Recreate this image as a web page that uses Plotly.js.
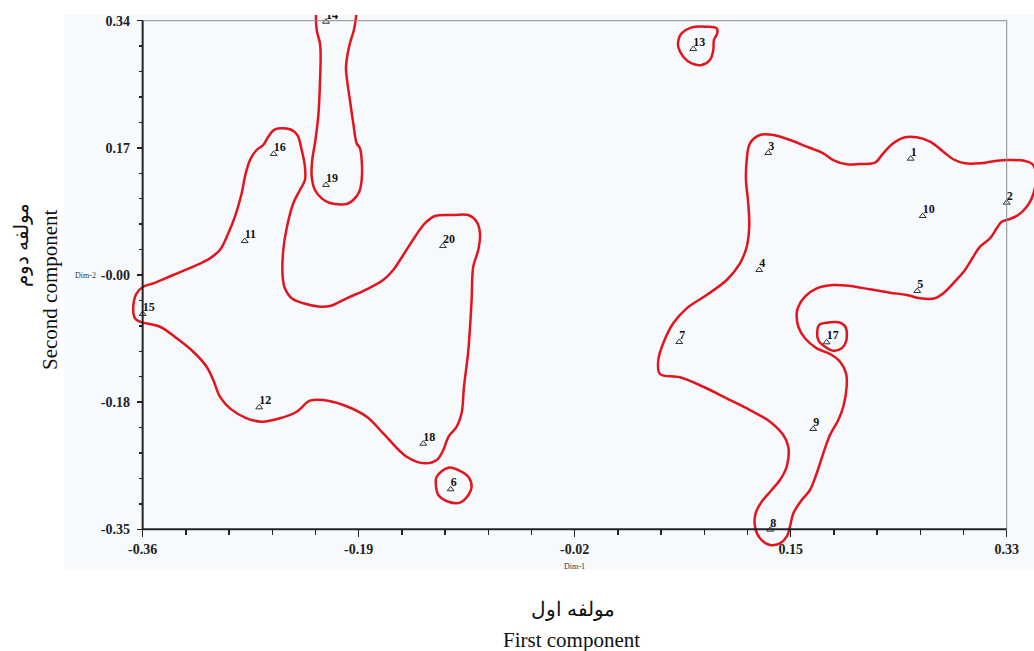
<!DOCTYPE html>
<html>
<head>
<meta charset="utf-8">
<script src="https://cdn.plot.ly/plotly-3.0.1.min.js"></script>
<style>html,body{margin:0;padding:0;background:#fff;}#chart{width:1034px;height:651px;}</style>
</head>
<body>
<div id="chart"></div>
<script>
// ---- tick labels ----
const xTickVals = [-0.36, -0.1875, -0.015, 0.1575, 0.33];
const xTickText = ['-0.36', '-0.19', '-0.02', '0.15', '0.33'];
const yTickVals = [0.34, 0.1675, -0.005, -0.1775, -0.35];
const yTickText = ['0.34', '0.17', '-0.00', '-0.18', '-0.35'];

// ---- points ----
const pointLabels = ['1','2','3','4','5','6','7','8','9','10','11','12','13','14','15','16','17','18','19','20'];
const pointX = [0.2533, 0.3300, 0.1396, 0.1324, 0.2586, -0.1140, 0.0685, 0.1412, 0.1755, 0.2629,
                -0.2785, -0.2669, 0.0797, -0.2136, -0.3600, -0.2554, 0.1862, -0.1359, -0.2136, -0.1202];
const pointY = [0.1528, 0.0931, 0.1605, 0.0018, -0.0267, -0.2957, -0.0959, -0.3505, -0.2139, 0.0750,
                0.0411, -0.1845, 0.3016, 0.3386, -0.0579, 0.1592, -0.0963, -0.2339, 0.1171, 0.0343];

// ---- contour outlines ----
const leftBlobX = [-0.3675,-0.3661,-0.3622,-0.3462,-0.3328,-0.3196,-0.3089,-0.3036,-0.2983,-0.2903,-0.2769,-0.2650,-0.2504,-0.2370,-0.2264,-0.2158,-0.1998,-0.1811,-0.1679,-0.1492,-0.1346,-0.1252,-0.1199,-0.1159,-0.1092,-0.1053,-0.1034,-0.0999,-0.0973,-0.0960,-0.0920,-0.0906,-0.0933,-0.0999,-0.1120,-0.1266,-0.1346,-0.1425,-0.1519,-0.1599,-0.1679,-0.1811,-0.1971,-0.2104,-0.2184,-0.2317,-0.2410,-0.2464,-0.2482,-0.2477,-0.2450,-0.2397,-0.2344,-0.2304,-0.2304,-0.2330,-0.2365,-0.2424,-0.2543,-0.2597,-0.2637,-0.2690,-0.2743,-0.2783,-0.2809,-0.2863,-0.2916,-0.2983,-0.3063,-0.3196,-0.3356,-0.3515,-0.3595,-0.3648,-0.3675];
const leftBlobY = [-0.0480,-0.0638,-0.0684,-0.0752,-0.0909,-0.1091,-0.1294,-0.1475,-0.1701,-0.1859,-0.1994,-0.2040,-0.1994,-0.1905,-0.1755,-0.1746,-0.1814,-0.1973,-0.2198,-0.2515,-0.2605,-0.2560,-0.2424,-0.2248,-0.2108,-0.1926,-0.1566,-0.1068,-0.0389,0.0063,0.0289,0.0516,0.0673,0.0764,0.0764,0.0750,0.0651,0.0470,0.0221,0.0018,-0.0118,-0.0244,-0.0366,-0.0471,-0.0480,-0.0434,-0.0366,-0.0231,-0.0073,0.0289,0.0583,0.0923,0.1103,0.1239,0.1419,0.1646,0.1849,0.1927,0.1927,0.1826,0.1714,0.1646,0.1510,0.1284,0.1058,0.0741,0.0516,0.0289,0.0176,0.0063,-0.0050,-0.0163,-0.0209,-0.0298,-0.0480];

const tubeX = [-0.2216,-0.2210,-0.2184,-0.2179,-0.2184,-0.2198,-0.2224,-0.2246,-0.2250,-0.2224,-0.2170,-0.2110,-0.1971,-0.1918,-0.1870,-0.1851,-0.1851,-0.1865,-0.1891,-0.1918,-0.1945,-0.1976,-0.1971,-0.1945,-0.1913,-0.1889];
const tubeY = [0.3545,0.3274,0.3093,0.2958,0.2551,0.2098,0.1737,0.1510,0.1284,0.1103,0.0990,0.0931,0.0913,0.0967,0.1080,0.1239,0.1510,0.1669,0.1737,0.2008,0.2324,0.2731,0.2867,0.3093,0.3274,0.3545];

const blob13X = [0.0704,0.0784,0.0904,0.0984,0.0989,0.0962,0.0957,0.0930,0.0864,0.0784,0.0717,0.0677,0.0682,0.0704];
const blob13Y = [0.3229,0.3310,0.3319,0.3297,0.3229,0.3138,0.3002,0.2867,0.2799,0.2822,0.2912,0.3047,0.3161,0.3229];

const blob6X = [-0.1252,-0.1159,-0.1080,-0.0999,-0.0973,-0.0999,-0.1066,-0.1159,-0.1239,-0.1258,-0.1252];
const blob6Y = [-0.2787,-0.2664,-0.2696,-0.2787,-0.2922,-0.3035,-0.3139,-0.3126,-0.3035,-0.2899,-0.2787];

const blob17X = [0.1803,0.1862,0.1982,0.2017,0.2017,0.1982,0.1915,0.1849,0.1795,0.1787,0.1803];
const blob17Y = [-0.0728,-0.0697,-0.0705,-0.0773,-0.0955,-0.1045,-0.1077,-0.1023,-0.0932,-0.0819,-0.0728];

const rightBlobX = [0.1250,0.1330,0.1436,0.1569,0.1703,0.1835,0.1915,0.2022,0.2128,0.2248,0.2314,0.2394,0.2488,0.2581,0.2687,0.2794,0.2873,0.2967,0.3087,0.3220,0.3326,0.3446,0.3512,0.3534,0.3500,0.3460,0.3392,0.3326,0.3260,0.3220,0.3167,0.3087,0.3033,0.2967,0.2873,0.2794,0.2727,0.2608,0.2501,0.2368,0.2208,0.2049,0.1915,0.1783,0.1689,0.1636,0.1623,0.1636,0.1689,0.1783,0.1889,0.1969,0.2017,0.2022,0.1995,0.1955,0.1889,0.1835,0.1783,0.1729,0.1663,0.1596,0.1569,0.1543,0.1489,0.1410,0.1330,0.1290,0.1295,0.1343,0.1423,0.1489,0.1543,0.1556,0.1516,0.1410,0.1250,0.1064,0.0877,0.0691,0.0531,0.0518,0.0557,0.0637,0.0744,0.0904,0.1064,0.1170,0.1224,0.1244,0.1236,0.1218,0.1224,0.1250];
const rightBlobY = [0.1737,0.1849,0.1849,0.1781,0.1691,0.1601,0.1510,0.1452,0.1456,0.1473,0.1601,0.1737,0.1818,0.1818,0.1758,0.1623,0.1520,0.1465,0.1465,0.1501,0.1510,0.1497,0.1442,0.1239,0.0991,0.0877,0.0764,0.0710,0.0673,0.0583,0.0448,0.0334,0.0198,0.0018,-0.0163,-0.0298,-0.0366,-0.0366,-0.0321,-0.0290,-0.0244,-0.0199,-0.0186,-0.0231,-0.0344,-0.0480,-0.0570,-0.0752,-0.0909,-0.1045,-0.1122,-0.1226,-0.1384,-0.1566,-0.1837,-0.2017,-0.2221,-0.2469,-0.2740,-0.2967,-0.3103,-0.3283,-0.3465,-0.3600,-0.3690,-0.3713,-0.3622,-0.3465,-0.3283,-0.3126,-0.2967,-0.2831,-0.2651,-0.2380,-0.2221,-0.2040,-0.1882,-0.1723,-0.1566,-0.1438,-0.1393,-0.1203,-0.0977,-0.0705,-0.0502,-0.0321,-0.0118,0.0109,0.0334,0.0605,0.0923,0.1239,0.1510,0.1737];

const contours = [
  [leftBlobX, leftBlobY], [tubeX, tubeY], [blob13X, blob13Y],
  [blob6X, blob6Y], [blob17X, blob17Y], [rightBlobX, rightBlobY]
];

// ---- geometry (pixel layout of the figure) ----
const W = 1034, H = 651;
const px = v => v / W;
const py = v => 1 - v / H;

const RED = '#e3141d';
const traces = contours.map(c => ({
  type: 'scatter', mode: 'lines', x: c[0], y: c[1],
  line: {color: RED, width: 2.5, shape: 'spline', smoothing: 1},
  hoverinfo: 'skip', showlegend: false
}));
traces.push({
  type: 'scatter', mode: 'markers', x: pointX, y: pointY,
  marker: {symbol: 'triangle-up-open', size: 6, color: '#333', line: {width: 1, color: '#333'}},
  hoverinfo: 'skip', showlegend: false
});
traces.push({
  type: 'scatter', mode: 'text', x: pointX, y: pointY, text: pointLabels,
  textposition: 'top right', cliponaxis: true,
  textfont: {family: 'Liberation Serif, serif', size: 12, color: '#111', weight: 'bold'},
  hoverinfo: 'skip', showlegend: false
});

const tickFont = {family: 'Liberation Serif, serif', size: 14, color: '#222', weight: 'bold'};
const X0 = xTickVals[0], X1 = xTickVals[xTickVals.length - 1];
const Y0 = yTickVals[yTickVals.length - 1], Y1 = yTickVals[0];

const layout = {
  width: W, height: H,
  margin: {l: 0, r: 0, t: 0, b: 0},
  paper_bgcolor: '#ffffff',
  plot_bgcolor: 'rgba(0,0,0,0)',
  showlegend: false,
  xaxis: {
    domain: [px(128), 1], range: [-0.3717, 0.3518],
    anchor: 'free', position: py(529.3),
    showline: false, showgrid: false, zeroline: false,
    tickmode: 'array', tickvals: xTickVals, ticktext: xTickText,
    ticks: 'outside', ticklen: 7, tickwidth: 1.5, tickcolor: '#222',
    tickfont: tickFont,
    minor: {tickmode: 'linear', tick0: -0.36, dtick: 0.0345, ticks: 'outside', ticklen: 5, tickwidth: 1.3, tickcolor: '#222', showgrid: false}
  },
  yaxis: {
    domain: [py(550), py(15)], range: [-0.37808, 0.34773],
    anchor: 'free', position: px(142.7),
    showline: false, showgrid: false, zeroline: false,
    tickmode: 'array', tickvals: yTickVals, ticktext: yTickText,
    ticks: 'outside', ticklen: 6, tickwidth: 1.5, tickcolor: '#222',
    ticklabelstandoff: 4,
    tickfont: tickFont,
    minor: {tickmode: 'linear', tick0: -0.35, dtick: 0.0345, ticks: 'outside', ticklen: 4, tickwidth: 1.3, tickcolor: '#222', showgrid: false}
  },
  shapes: [
    {type: 'rect', xref: 'paper', yref: 'paper', x0: px(64), x1: 1, y0: py(570), y1: py(15),
     fillcolor: '#f6fafc', line: {width: 0}, layer: 'below'},
    {type: 'line', xref: 'x', yref: 'y', x0: X0, x1: X1, y0: Y1, y1: Y1, line: {color: '#8a8a8a', width: 1}},
    {type: 'line', xref: 'x', yref: 'y', x0: X1, x1: X1, y0: Y0, y1: Y1, line: {color: '#8a8a8a', width: 1}},
    {type: 'line', xref: 'x', yref: 'y', x0: X0, x1: X0, y0: Y0, y1: Y1, line: {color: '#222', width: 2}},
    {type: 'line', xref: 'x', yref: 'y', x0: X0, x1: X1, y0: Y0, y1: Y0, line: {color: '#222', width: 2}}
  ],
  annotations: [
    {text: 'Dim-1', xref: 'paper', yref: 'paper', x: px(574), y: py(566), showarrow: false,
     font: {family: 'Liberation Serif, serif', size: 8, color: '#333'}, xanchor: 'center', yanchor: 'middle'},
    {text: 'Dim-2', xref: 'paper', yref: 'paper', x: px(85), y: py(275), showarrow: false,
     font: {family: 'Liberation Serif, serif', size: 8, color: '#333'}, xanchor: 'center', yanchor: 'middle'},
    {text: 'مولفه اول', xref: 'paper', yref: 'paper', x: px(573), y: py(609), showarrow: false,
     font: {family: 'Liberation Serif, DejaVu Serif, serif', size: 20, color: '#111'}, xanchor: 'center', yanchor: 'middle'},
    {text: 'First component', xref: 'paper', yref: 'paper', x: px(571), y: py(640), showarrow: false,
     font: {family: 'Liberation Serif, serif', size: 21, color: '#111'}, xanchor: 'center', yanchor: 'middle'},
    {text: 'مولفه دوم', xref: 'paper', yref: 'paper', x: px(21), y: py(245), showarrow: false, textangle: -90,
     font: {family: 'Liberation Serif, DejaVu Serif, serif', size: 20, color: '#111'}, xanchor: 'center', yanchor: 'middle'},
    {text: 'Second component', xref: 'paper', yref: 'paper', x: px(50), y: py(290), showarrow: false, textangle: -90,
     font: {family: 'Liberation Serif, serif', size: 21, color: '#111'}, xanchor: 'center', yanchor: 'middle'}
  ]
};

Plotly.newPlot('chart', traces, layout, {staticPlot: true, displayModeBar: false});
</script>
</body>
</html>
